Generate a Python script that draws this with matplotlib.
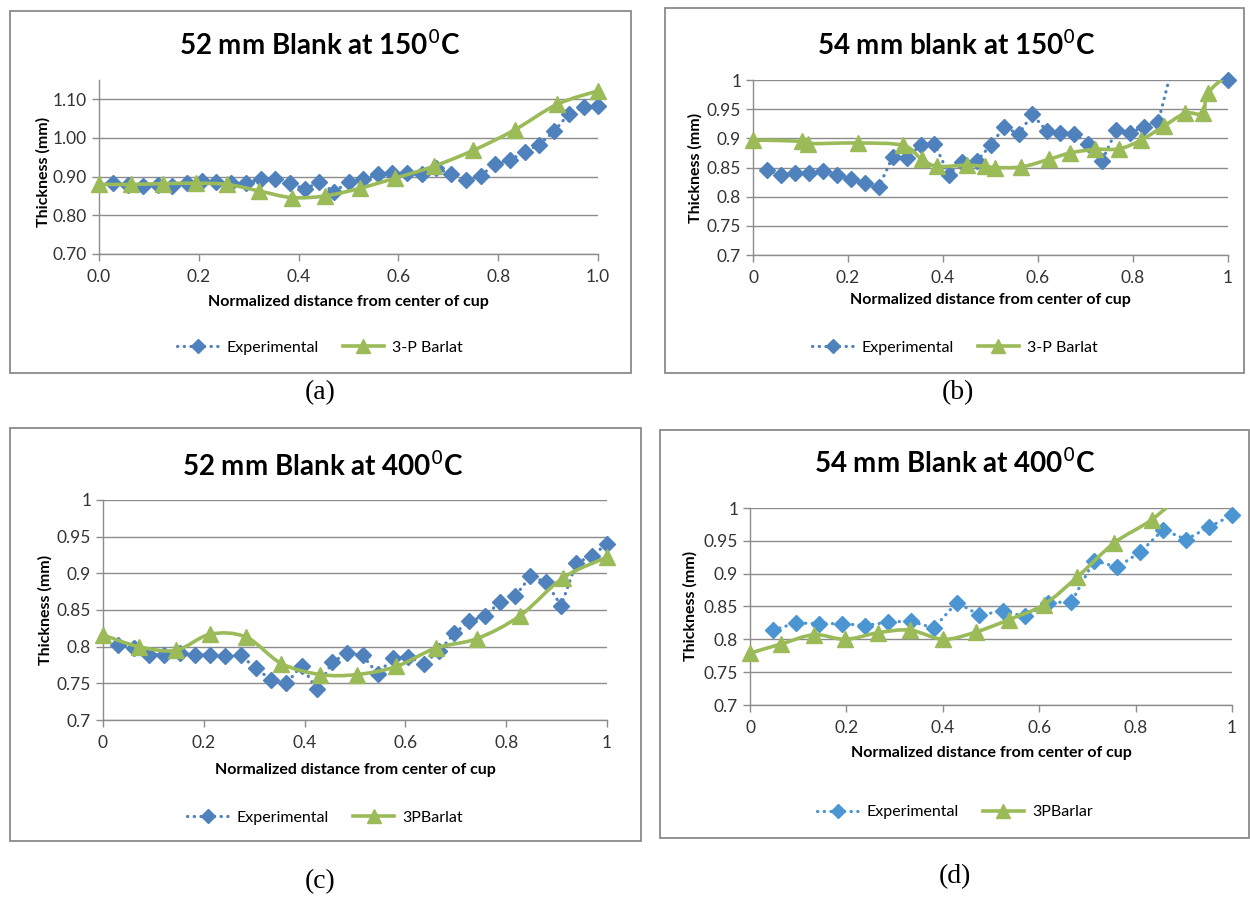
import numpy as np
import matplotlib
matplotlib.use('Agg')
import matplotlib.pyplot as plt
from matplotlib.path import Path
from matplotlib.patches import PathPatch, Rectangle
from matplotlib.lines import Line2D

# ---- data ----
a_exp_x = [0.029, 0.059, 0.088, 0.118, 0.147, 0.176, 0.206, 0.235, 0.265, 0.294, 0.324, 0.353,
           0.382, 0.412, 0.441, 0.471, 0.500, 0.529, 0.559, 0.588, 0.618, 0.647, 0.676, 0.706,
           0.735, 0.765, 0.794, 0.824, 0.853, 0.882, 0.912, 0.941, 0.971, 1.000]
a_exp_y = [0.883, 0.879, 0.877, 0.879, 0.877, 0.883, 0.889, 0.885, 0.883, 0.883, 0.893, 0.893,
           0.883, 0.868, 0.885, 0.861, 0.886, 0.893, 0.906, 0.909, 0.909, 0.908, 0.922, 0.906,
           0.891, 0.902, 0.934, 0.944, 0.963, 0.983, 1.017, 1.062, 1.079, 1.083]
a_fem_x = [0.0, 0.064, 0.129, 0.194, 0.257, 0.321, 0.386, 0.452, 0.523, 0.593, 0.671, 0.750,
           0.833, 0.918, 1.0]
a_fem_y = [0.880, 0.880, 0.882, 0.883, 0.880, 0.863, 0.846, 0.850, 0.870, 0.896, 0.927, 0.968,
           1.021, 1.087, 1.122]

b_exp_x = [0.029, 0.059, 0.088, 0.118, 0.147, 0.176, 0.206, 0.235, 0.265, 0.294, 0.324, 0.353,
           0.382, 0.412, 0.441, 0.471, 0.500, 0.529, 0.559, 0.588, 0.618, 0.647, 0.676, 0.706,
           0.735, 0.765, 0.794, 0.824, 0.853, 0.882, 0.912, 0.941, 0.971, 1.000]
b_exp_y = [0.846, 0.837, 0.841, 0.841, 0.844, 0.838, 0.830, 0.824, 0.817, 0.868, 0.867, 0.888,
           0.891, 0.838, 0.860, 0.861, 0.888, 0.920, 0.907, 0.941, 0.913, 0.910, 0.908, 0.891,
           0.862, 0.914, 0.910, 0.920, 0.928, 1.020, 1.050, 1.060, 1.040, 1.000]
b_fem_x = [0.0, 0.103, 0.116, 0.222, 0.316, 0.355, 0.388, 0.450, 0.489, 0.510, 0.565, 0.623,
           0.668, 0.719, 0.771, 0.817, 0.865, 0.910, 0.947, 0.957, 1.0]
b_fem_y = [0.897, 0.895, 0.891, 0.892, 0.888, 0.864, 0.852, 0.854, 0.852, 0.850, 0.851, 0.864,
           0.875, 0.881, 0.882, 0.897, 0.921, 0.943, 0.943, 0.977, 1.010]

c_exp_x = [0.030, 0.061, 0.091, 0.121, 0.152, 0.182, 0.212, 0.242, 0.273, 0.303, 0.333, 0.364,
           0.394, 0.424, 0.455, 0.485, 0.515, 0.545, 0.576, 0.606, 0.636, 0.667, 0.697, 0.727,
           0.758, 0.788, 0.818, 0.848, 0.879, 0.909, 0.939, 0.970, 1.000]
c_exp_y = [0.802, 0.798, 0.789, 0.789, 0.791, 0.789, 0.789, 0.787, 0.788, 0.771, 0.755, 0.750,
           0.774, 0.742, 0.779, 0.791, 0.788, 0.763, 0.785, 0.786, 0.777, 0.794, 0.818, 0.835,
           0.842, 0.861, 0.869, 0.896, 0.888, 0.856, 0.914, 0.924, 0.940]
c_fem_x = [0.0, 0.071, 0.144, 0.213, 0.284, 0.354, 0.431, 0.504, 0.582, 0.660, 0.742, 0.827,
           0.913, 1.0]
c_fem_y = [0.816, 0.800, 0.795, 0.817, 0.813, 0.777, 0.762, 0.762, 0.773, 0.798, 0.811, 0.842,
           0.894, 0.922]

d_exp_x = [0.048, 0.095, 0.143, 0.190, 0.238, 0.286, 0.333, 0.381, 0.429, 0.476, 0.524, 0.571,
           0.619, 0.667, 0.714, 0.762, 0.810, 0.857, 0.905, 0.952, 1.000]
d_exp_y = [0.814, 0.825, 0.824, 0.824, 0.821, 0.826, 0.828, 0.817, 0.856, 0.837, 0.843, 0.835,
           0.856, 0.857, 0.920, 0.910, 0.933, 0.967, 0.952, 0.971, 0.989]
d_fem_x = [0.0, 0.065, 0.133, 0.198, 0.265, 0.332, 0.401, 0.468, 0.537, 0.610, 0.679, 0.756,
           0.833, 0.910]
d_fem_y = [0.779, 0.793, 0.807, 0.800, 0.810, 0.814, 0.800, 0.811, 0.830, 0.853, 0.895, 0.947,
           0.982, 1.030]

titles = ['52 mm Blank at 150$^{0}$C', '54 mm blank at 150$^{0}$C',
          '52 mm Blank at 400$^{0}$C', '54 mm Blank at 400$^{0}$C']
fem_names = ['3-P Barlat', '3-P Barlat', '3PBarlat', '3PBarlar']
sub_labels = ['(a)', '(b)', '(c)', '(d)']

W, H = 1250, 897
BLUE = '#4F81BD'
GREEN = '#9BBB59'
GRID = '#8C8C8C'
DOTS = (0, (0.1, 2.0))
plt.rcParams['font.family'] = ['Lato', 'DejaVu Sans']

fig = plt.figure(figsize=(W / 100, H / 100), dpi=100)


def fx(px):
    return px / W


def fy(py):
    return 1 - py / H


def smooth_line(ax, x, y, **kw):
    # Excel-like smoothed line: Catmull-Rom segments drawn as cubic Bezier
    p = np.column_stack([x, y])
    n = len(p)
    verts = [p[0]]
    codes = [Path.MOVETO]
    for i in range(n - 1):
        p0 = p[max(i - 1, 0)]
        p1 = p[i]
        p2 = p[i + 1]
        p3 = p[min(i + 2, n - 1)]
        verts += [p1 + (p2 - p0) / 6, p2 - (p3 - p1) / 6, p2]
        codes += [Path.CURVE4] * 3
    ax.add_patch(PathPatch(Path(verts, codes), fill=False, transform=ax.transData, **kw))


# panel layout in reference pixels
panels = [
    dict(box=(10, 11, 631, 373), plot=(99, 598, 1.15, 80, 0.70, 254), ymax=1.15, ystep=0.1,
         ylab='%.2f', xlab='%.1f', title_xy=(320, 45), xl_y=302, yl_x=43, yl_y=172,
         leg_xy=(320, 348), sub_xy=(320, 393), exp=(a_exp_x, a_exp_y), fem=(a_fem_x, a_fem_y)),
    dict(box=(665, 8, 1244, 373), plot=(753, 1228, 1.0, 80, 0.70, 255), ymax=1.0, ystep=0.05,
         ylab=None, xlab=None, title_xy=(957, 45), xl_y=300, yl_x=695, yl_y=168,
         leg_xy=(955, 348), sub_xy=(958, 393), exp=(b_exp_x, b_exp_y), fem=(b_fem_x, b_fem_y)),
    dict(box=(10, 428, 641, 841), plot=(103, 607, 1.0, 500, 0.70, 720), ymax=1.0, ystep=0.05,
         ylab=None, xlab=None, title_xy=(323, 466), xl_y=770, yl_x=45, yl_y=610,
         leg_xy=(325, 818), sub_xy=(320, 882), exp=(c_exp_x, c_exp_y), fem=(c_fem_x, c_fem_y)),
    dict(box=(660, 430, 1249, 838), plot=(750, 1232, 1.0, 508, 0.70, 705), ymax=1.0, ystep=0.05,
         ylab=None, xlab=None, title_xy=(955, 463), xl_y=753, yl_x=690, yl_y=606,
         leg_xy=(955, 812), sub_xy=(955, 877), exp=(d_exp_x, d_exp_y), fem=(d_fem_x, d_fem_y)),
]


def short(v):
    return ('%.2f' % v).rstrip('0').rstrip('.')


for i, pn in enumerate(panels):
    bx0, by0, bx1, by1 = pn['box']
    fig.add_artist(Rectangle((fx(bx0), fy(by1)), fx(bx1 - bx0), (by1 - by0) / H,
                             transform=fig.transFigure, fill=False, edgecolor='#8A8A8A', lw=1.3))

    x0, x1, ytop, pytop, ybot, pybot = pn['plot']
    ax = fig.add_axes([fx(x0), fy(pybot), fx(x1 - x0), (pybot - pytop) / H])
    ax.set_xlim(0, 1)
    ax.set_ylim(0.7, pn['ymax'])
    ax.patch.set_alpha(0)
    for s in ('top', 'right'):
        ax.spines[s].set_visible(False)
    for s in ('left', 'bottom'):
        ax.spines[s].set_color(GRID)
        ax.spines[s].set_linewidth(1)
    yt = np.round(np.arange(0.7, pn['ymax'] + 1e-6, pn['ystep']), 2)
    xt = np.round(np.arange(0, 1.0001, 0.2), 1)
    ax.set_yticks(yt)
    ax.set_xticks(xt)
    if pn['ylab']:
        ax.set_yticklabels([pn['ylab'] % v for v in yt])
        ax.set_xticklabels([pn['xlab'] % v for v in xt])
    else:
        ax.set_yticklabels([short(v) for v in yt])
        ax.set_xticklabels([short(v) for v in xt])
    ax.tick_params(axis='both', colors=GRID, labelcolor='#333333', labelsize=12.5, length=5,
                   width=1, direction='out')
    ax.tick_params(axis='x', pad=6)
    ax.grid(axis='y', color=GRID, lw=1)
    ax.set_axisbelow(True)

    ex = np.array(pn['exp'][0])
    ey = np.array(pn['exp'][1])
    mcol = '#4A95D2' if i == 3 else BLUE
    ax.plot(ex, ey, color=mcol, lw=2.3, linestyle=DOTS, dash_capstyle='round', zorder=3)
    mask = ey <= pn['ymax'] + 1e-9
    ax.plot(ex[mask], ey[mask], linestyle='none', marker='D', ms=8.5, color=mcol,
            mec=mcol, clip_on=False, zorder=4)

    gx = np.array(pn['fem'][0])
    gy = np.array(pn['fem'][1])
    smooth_line(ax, gx, gy, edgecolor=GREEN, lw=2.6, zorder=5)
    gmask = gy <= pn['ymax'] + 0.005
    ax.plot(gx[gmask], gy[gmask], linestyle='none', marker='^', ms=11, color=GREEN,
            clip_on=False, zorder=6)

    fig.text(fx(pn['title_xy'][0]), fy(pn['title_xy'][1]), titles[i], ha='center', va='center',
             fontsize=20, fontweight='bold')
    fig.text(fx((x0 + x1) / 2), fy(pn['xl_y']), 'Normalized distance from center of cup',
             ha='center', va='center', fontsize=11.5, fontweight='bold')
    fig.text(fx(pn['yl_x']), fy(pn['yl_y']), 'Thickness (mm)',
             ha='center', va='center', rotation=90, fontsize=11.5, fontweight='bold')

    handles = [Line2D([], [], color=mcol, lw=2.3, linestyle=DOTS, marker='D', ms=7,
                      mec=mcol, mfc=mcol, dash_capstyle='round'),
               Line2D([], [], color=GREEN, lw=2.6, marker='^', ms=10)]
    lx, ly = pn['leg_xy']
    fig.legend(handles, ['Experimental', fem_names[i]], loc='center',
               bbox_to_anchor=(fx(lx), fy(ly)), ncol=2, frameon=False, fontsize=11.5,
               handlelength=2.6, columnspacing=1.5, handletextpad=0.5)

    fig.text(fx(pn['sub_xy'][0]), fy(pn['sub_xy'][1]), sub_labels[i], ha='center', va='center',
             fontsize=20, family='Liberation Serif')

fig.savefig('out.png', dpi=100, facecolor='white')
